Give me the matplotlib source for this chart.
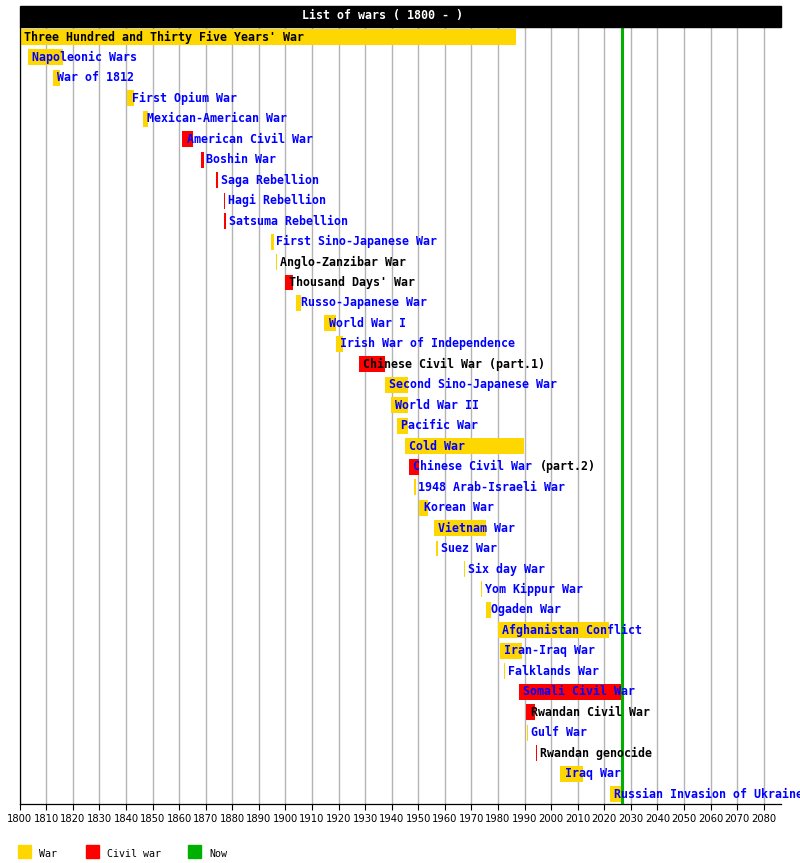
import matplotlib
matplotlib.use("Agg")
import matplotlib.pyplot as plt
from matplotlib.patches import Rectangle

# wars since 1800 (years, fractional)
names = [
    "Three Hundred and Thirty Five Years' War", "Napoleonic Wars", "War of 1812",
    "First Opium War", "Mexican-American War", "American Civil War", "Boshin War",
    "Saga Rebellion", "Hagi Rebellion", "Satsuma Rebellion", "First Sino-Japanese War",
    "Anglo-Zanzibar War", "Thousand Days' War", "Russo-Japanese War", "World War I",
    "Irish War of Independence", "Chinese Civil War (part.1)", "Second Sino-Japanese War",
    "World War II", "Pacific War", "Cold War", "Chinese Civil War (part.2)",
    "1948 Arab-Israeli War", "Korean War", "Vietnam War", "Suez War", "Six day War",
    "Yom Kippur War", "Ogaden War", "Afghanistan Conflict", "Iran-Iraq War",
    "Falklands War", "Somali Civil War", "Rwandan Civil War", "Gulf War",
    "Rwandan genocide", "Iraq War", "Russian Invasion of Ukraine",
]
starts = [1651, 1803.1, 1812.5, 1840.4, 1846.4, 1861.1, 1868.3, 1873.9, 1876.7, 1877.0,
          1894.6, 1896.4, 1899.8, 1904.1, 1914.6, 1919.0, 1927.7, 1937.4, 1939.7, 1941.9,
          1945.0, 1946.5, 1948.4, 1950.4, 1955.9, 1956.7, 1967.2, 1973.6, 1975.6, 1979.9,
          1980.7, 1982.1, 1987.9, 1990.7, 1990.8, 1994.2, 2003.5, 2022.1]
ends = [1986.9, 1816.2, 1815.3, 1843.0, 1848.1, 1865.4, 1869.5, 1874.5, 1877.1, 1877.8,
        1895.6, 1896.8, 1903.0, 1905.8, 1918.9, 1921.6, 1937.4, 1946.0, 1946.0, 1946.0,
        1989.9, 1950.2, 1949.3, 1953.8, 1975.3, 1957.3, 1967.6, 1974.0, 1977.4, 2021.8,
        1988.9, 1982.5, 2026.7, 1994.0, 1991.2, 1994.6, 2011.9, 2026.7]
civil = [False, False, False, False, False, True, True, True, True, True,
         False, False, True, False, False, False, True, False, False, False,
         False, True, False, False, False, False, False, False, False, False,
         False, False, True, True, False, True, False, False]
linked = [False, True, True, True, True, True, True, True, True, True,
          True, False, False, True, True, True, False, True, True, True,
          True, True, True, True, True, True, True, True, True, True,
          True, True, True, False, True, False, True, True]
now = 2026.7
decades = list(range(1800, 2081, 10))

war_col = "#ffd700"
civil_col = "#ff0000"
now_col = "#00b000"
link_col = "#0000ff"

W, H = 800, 863
fig = plt.figure(figsize=(W / 100, H / 100), dpi=100)

x0, x1 = 19.73, 780.5
ytop, ybot = 27, 804
ax = fig.add_axes([x0 / W, (H - ybot) / H, (x1 - x0) / W, (ybot - ytop) / H])

row_h = 20.46
ax.set_xlim(1800, 1800 + (x1 - x0) / 2.657)
ax.set_ylim((ybot - 37) / row_h, (ytop - 37) / row_h)

mono = "DejaVu Sans Mono"
fs = 8.4
char_w = 0.602 * fs  # points per character in the mono font
pad = 3.2
for i, name in enumerate(names):
    s = max(starts[i], 1800)
    col = civil_col if civil[i] else war_col
    ax.barh(i, ends[i] - s, left=s, height=0.78, color=col, zorder=2)
    kw = dict(xy=(s, i), textcoords="offset points",
              va="center", ha="left", fontsize=fs, fontweight="bold",
              family=mono, zorder=4, annotation_clip=False)
    if name.startswith("Chinese Civil War (part.2"):
        ax.annotate("Chinese Civil War", xytext=(pad, 0), color=link_col, **kw)
        ax.annotate("(part.2)", xytext=(pad + 18 * char_w, 0), color="black", **kw)
    else:
        ax.annotate(name, xytext=(pad, 0),
                    color=link_col if linked[i] else "black", **kw)

ax.axvline(now, color=now_col, lw=2.2, zorder=3)

ax.set_xticks(decades)
ax.set_xticklabels([str(d) for d in decades], fontsize=7.2, family="DejaVu Sans")
ax.set_yticks([])
ax.grid(axis="x", color="#b4b4b4", lw=1.0)
ax.set_axisbelow(True)
ax.tick_params(axis="x", length=4, width=0.8, pad=3.5)
for side in ["top", "right"]:
    ax.spines[side].set_visible(False)
for side in ["left", "bottom"]:
    ax.spines[side].set_linewidth(0.9)

# title bar
fig.patches.append(Rectangle((20 / W, (H - 27) / H), (781 - 20) / W, 21 / H,
                             transform=fig.transFigure, color="black", zorder=5))
fig.text(383 / W, (H - 16) / H, "List of wars ( 1800 - )", color="white",
         fontsize=fs, fontweight="bold", family=mono, ha="center", va="center", zorder=6)

# legend
for xs, c, lab in [(18, war_col, "War"), (86, civil_col, "Civil war"), (188, now_col, "Now")]:
    fig.patches.append(Rectangle((xs / W, (H - 858) / H), 13 / W, 13 / H,
                                 transform=fig.transFigure, color=c))
    fig.text((xs + 21) / W, (H - 854) / H, lab, fontsize=7.2, family=mono,
             ha="left", va="center")

fig.savefig("out.png", dpi=100)
